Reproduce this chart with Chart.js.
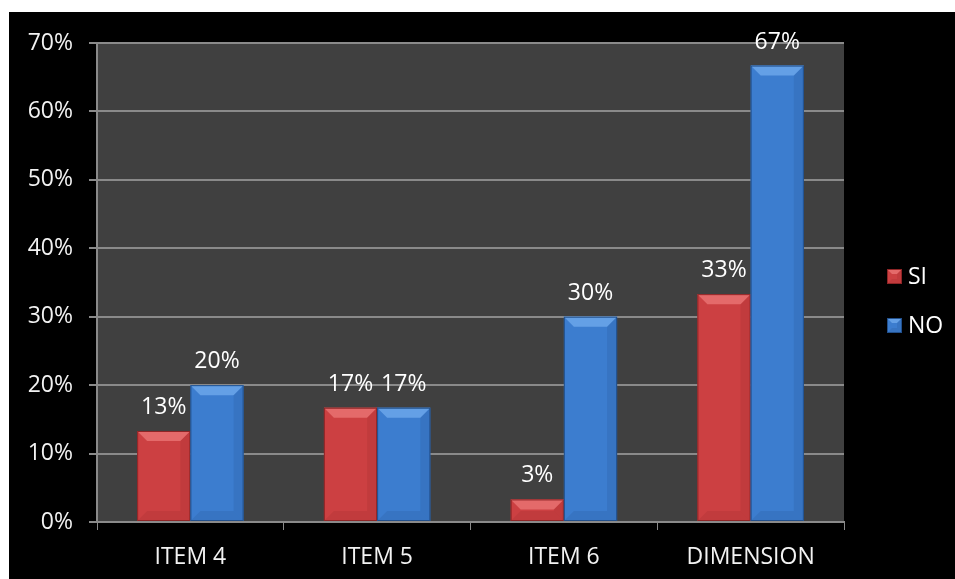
<!DOCTYPE html>
<html>
<head>
<meta charset="utf-8">
<script src="https://cdn.jsdelivr.net/npm/chart.js@4"></script>
<style>
  html, body { margin: 0; padding: 0; background: #fff; }
  #wrap { position: absolute; left: 9px; top: 12px; width: 946px; height: 567px; background: #000; }
</style>
</head>
<body>
<div id="wrap"><canvas id="chart" width="946" height="567"></canvas></div>
<script>
const categories = ['ITEM 4', 'ITEM 5', 'ITEM 6', 'DIMENSION'];
const siValues = [13.3, 16.7, 3.3, 33.3];
const noValues = [20, 16.7, 30, 66.7];
const yTicks = [0, 10, 20, 30, 40, 50, 60, 70];

const FONT = '"Open Sans", "Noto Sans", sans-serif';
const FSIZE = 23;

const palette = {
  SI: { body: '#cc4042', light: '#e46a6a', dark: '#8e2526' },
  NO: { body: '#3c7dcf', light: '#64a0e6', dark: '#22508c' }
};

// plot area background
const plotBg = {
  id: 'plotBg',
  beforeDraw(chart) {
    const { ctx, chartArea: a } = chart;
    ctx.save();
    ctx.fillStyle = '#404040';
    ctx.fillRect(a.left, a.top, a.right - a.left, a.bottom - a.top);
    ctx.restore();
  }
};

function bevelRect(ctx, left, top, right, bottom, col, b) {
  ctx.fillStyle = col.body;
  ctx.fillRect(left, top, right - left, bottom - top);
  // top face
  ctx.fillStyle = col.light;
  ctx.beginPath();
  ctx.moveTo(left, top); ctx.lineTo(right, top);
  ctx.lineTo(right - b, top + b); ctx.lineTo(left + b, top + b);
  ctx.closePath(); ctx.fill();
  // right side and bottom, faint
  ctx.globalAlpha = 0.18;
  ctx.fillStyle = col.dark;
  ctx.beginPath();
  ctx.moveTo(right, top); ctx.lineTo(right, bottom);
  ctx.lineTo(right - b, bottom - b); ctx.lineTo(right - b, top + b);
  ctx.closePath(); ctx.fill();
  ctx.beginPath();
  ctx.moveTo(left, bottom); ctx.lineTo(right, bottom);
  ctx.lineTo(right - b, bottom - b); ctx.lineTo(left + b, bottom - b);
  ctx.closePath(); ctx.fill();
  ctx.globalAlpha = 1;
  ctx.strokeStyle = col.dark;
  ctx.lineWidth = 1;
  ctx.strokeRect(left + 0.5, top + 0.5, right - left - 1, bottom - top - 1);
}

// bevel bars, value labels and legend
const bevelBars = {
  id: 'bevelBars',
  afterDatasetsDraw(chart) {
    const ctx = chart.ctx;
    ctx.save();
    chart.data.datasets.forEach((ds, i) => {
      const col = palette[ds.label];
      chart.getDatasetMeta(i).data.forEach((bar, j) => {
        const p = bar.getProps(['x', 'y', 'base', 'width'], true);
        const left = p.x - p.width / 2, right = p.x + p.width / 2;
        const h = p.base - p.y;
        const b = Math.min(10, h / 2);
        bevelRect(ctx, left, p.y, right, p.base, col, b);
        ctx.fillStyle = '#ffffff';
        ctx.font = FSIZE + 'px ' + FONT;
        ctx.textAlign = 'center';
        ctx.textBaseline = 'alphabetic';
        ctx.fillText(Math.round(ds.data[j]) + '%', p.x, p.y - 17);
      });
    });
    // legend
    const lx = 878, ly = [257, 306];
    chart.data.datasets.forEach((ds, i) => {
      const col = palette[ds.label];
      bevelRect(ctx, lx, ly[i], lx + 15, ly[i] + 15, col, 5);
      ctx.fillStyle = '#ffffff';
      ctx.font = FSIZE + 'px ' + FONT;
      ctx.textAlign = 'left';
      ctx.textBaseline = 'middle';
      ctx.fillText(ds.label, lx + 21, ly[i] + 8);
    });
    ctx.restore();
  }
};

new Chart(document.getElementById('chart'), {
  type: 'bar',
  data: {
    labels: categories,
    datasets: [
      { label: 'SI', data: siValues, backgroundColor: 'rgba(0,0,0,0)', borderWidth: 0 },
      { label: 'NO', data: noValues, backgroundColor: 'rgba(0,0,0,0)', borderWidth: 0 }
    ]
  },
  options: {
    responsive: false,
    animation: false,
    devicePixelRatio: 1,
    categoryPercentage: 0.57,
    barPercentage: 1.0,
    layout: { padding: { top: 31, right: 111, left: 0, bottom: 0 } },
    plugins: {
      legend: { display: false },
      tooltip: { enabled: false }
    },
    scales: {
      x: {
        afterFit(axis) { axis.height = 57; },
        grid: { drawOnChartArea: false, drawTicks: true, tickLength: 8, color: '#8a8a8a', offset: true },
        border: { display: true, color: '#8a8a8a', width: 2 },
        ticks: { color: '#f2f2f2', font: { family: FONT, size: FSIZE }, padding: 14 }
      },
      y: {
        min: 0,
        max: 70,
        afterFit(axis) { axis.width = 88; },
        afterBuildTicks(axis) { axis.ticks = yTicks.map(v => ({ value: v })); },
        grid: { color: '#8a8a8a', lineWidth: 2, tickLength: 8 },
        border: { display: true, color: '#8a8a8a', width: 2 },
        ticks: {
          color: '#f2f2f2',
          font: { family: FONT, size: FSIZE },
          padding: 16,
          callback: v => v + '%'
        }
      }
    }
  },
  plugins: [plotBg, bevelBars]
});
</script>
</body>
</html>
